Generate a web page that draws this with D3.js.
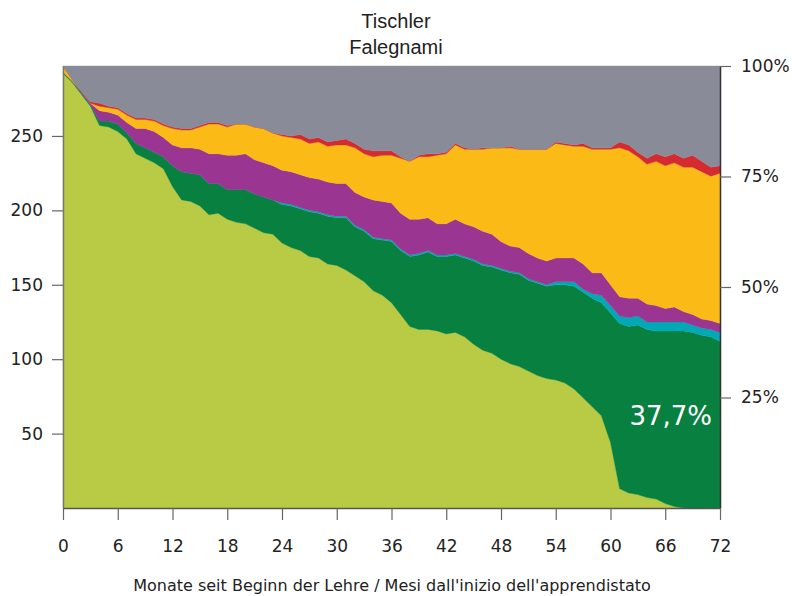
<!DOCTYPE html>
<html>
<head>
<meta charset="utf-8">
<script src="https://cdn.jsdelivr.net/npm/d3@7.9.0/dist/d3.min.js"></script>
<style>
  body { margin: 0; background: #fff; }
  svg text { font-family: "DejaVu Sans", sans-serif; fill: #222; }
  .title { font-family: "Liberation Sans", Arial, sans-serif; font-size: 20px; }
</style>
</head>
<body>
<svg id="chart" width="792" height="596"></svg>
<script>
// months since start of apprenticeship
const months = d3.range(0, 73);
const total = 297;

// headcounts per month, stacked from the bottom
const inTraining = [292,286,278,270,257,256,253,248,238,235,232,228,216,207,206,203,197,198,194,192,191,188,185,184,178,175,173,169,168,164,163,160,156,152,146,143,138,130,122,120,120,119,117,118,115,110,106,104,100,97,95,92,89,87,86,84,80,74,68,62,44,13,10,9,7,6,3,1,0,0,0,0,0];
const certified = [1,1,1,1,3,4,5,4,7,7,7,8,14,19,19,21,21,20,20,22,23,23,24,23,26,28,28,30,30,32,32,35,33,34,35,37,41,43,47,50,52,50,52,52,53,56,57,58,60,61,62,61,62,62,64,66,69,71,73,76,87,111,112,114,113,113,116,118,119,118,116,115,112];
const cyanGroup = [0,0,0,0,0,0,0,0,0,0,0,0,0,0,0,0,0,0,0,0,0,0,0,0,1,1,1,1,1,1,1,1,1,1,1,1,1,1,1,1,1,1,1,1,1,1,1,1,1,1,1,1,1,1,2,2,3,2,3,5,5,5,6,6,5,6,6,6,6,5,5,5,6];
const purpleGroup = [0,0,1,1,7,6,6,7,10,13,14,13,14,16,17,17,20,20,23,23,24,23,23,23,22,22,22,22,22,22,22,22,22,22,25,25,25,24,24,23,22,21,21,23,22,22,22,21,18,17,17,17,16,16,16,16,16,17,14,15,14,13,13,12,12,11,9,10,7,7,6,6,6];
const yellowGroup = [4,1,0,0,3,3,4,5,6,6,7,8,11,12,12,15,20,20,19,21,20,22,23,22,23,23,24,23,25,24,26,26,30,29,29,31,32,37,39,42,41,46,47,50,50,52,55,58,63,66,66,70,73,75,77,76,75,79,83,83,91,100,99,95,94,97,96,97,97,99,99,97,101];
const redGroup = [0,0,0,1,2,1,1,1,1,1,1,1,1,1,1,1,1,1,1,0,0,0,0,0,1,1,3,3,3,3,3,4,3,3,4,3,3,1,0,1,2,1,1,1,1,0,1,0,0,1,0,0,0,0,1,1,1,2,1,1,1,4,4,3,4,5,6,6,6,8,7,6,5];
const greyGroup = [0,9,17,24,25,27,28,32,35,35,36,39,41,42,42,40,38,38,40,39,39,41,42,45,46,47,46,49,48,51,50,49,52,56,57,57,57,61,64,60,59,59,58,52,55,56,55,55,55,54,56,56,56,56,51,52,53,52,55,55,55,51,53,58,62,59,61,59,62,60,64,68,67];

const seriesKeys = ['inTraining','certified','cyanGroup','purpleGroup','yellowGroup','redGroup','greyGroup'];
const seriesColors = ['#b9ca45','#08803f','#00a9b5','#9a3591','#fbba16','#d52a2f','#898b99'];
const xTicks = [0,6,12,18,24,30,36,42,48,54,60,66,72];
const leftTicks = [50,100,150,200,250];
const rightTicks = [0.25,0.5,0.75,1];

const columns = [inTraining, certified, cyanGroup, purpleGroup, yellowGroup, redGroup, greyGroup];
const table = months.map((m, i) => {
  const row = { month: m };
  seriesKeys.forEach((k, j) => row[k] = columns[j][i]);
  return row;
});

const svg = d3.select('#chart');
const x = d3.scaleLinear().domain([0, 72]).range([63, 720]);
const yLeft = d3.scaleLinear().domain([0, total]).range([508, 66]);
const yRight = d3.scaleLinear().domain([0, 1]).range([508, 66]);
const color = d3.scaleOrdinal(seriesKeys, seriesColors);

const stacked = d3.stack().keys(seriesKeys)(table);
const area = d3.area()
  .x(d => x(d.data.month))
  .y0(d => yLeft(d[0]))
  .y1(d => yLeft(d[1]));

svg.append('g')
  .selectAll('path')
  .data(stacked)
  .join('path')
  .attr('d', area)
  .attr('fill', d => color(d.key))
  .attr('stroke', d => color(d.key))
  .attr('stroke-width', 0.4);

// axes
const leftAxis = svg.append('g')
  .attr('transform', 'translate(63,0)')
  .call(d3.axisLeft(yLeft).tickValues(leftTicks).tickSize(11).tickSizeOuter(0).tickPadding(9));
const rightAxis = svg.append('g')
  .attr('transform', 'translate(720,0)')
  .call(d3.axisRight(yRight).tickValues(rightTicks).tickSize(11).tickSizeOuter(0).tickPadding(10)
    .tickFormat(d => Math.round(d * 100) + '%'));
const bottomAxis = svg.append('g')
  .attr('transform', 'translate(0,508)')
  .call(d3.axisBottom(x).tickValues(xTicks).tickSize(12).tickSizeOuter(0).tickPadding(20));

[leftAxis, rightAxis, bottomAxis].forEach(g => {
  g.selectAll('text').style('font-size', '17px').style('font-family', '"DejaVu Sans", sans-serif').attr('fill', '#222');
  g.selectAll('.tick line').attr('stroke', '#666').attr('stroke-width', 1.2);
});
leftAxis.select('.domain').attr('stroke', '#777').attr('stroke-width', 1.5);
rightAxis.select('.domain').attr('stroke', '#333').attr('stroke-width', 1.5);
bottomAxis.select('.domain').attr('stroke', '#555').attr('stroke-width', 1.5);

// titles
svg.append('text').attr('class', 'title').attr('x', 396).attr('y', 28)
  .attr('text-anchor', 'middle').text('Tischler');
svg.append('text').attr('class', 'title').attr('x', 396).attr('y', 54)
  .attr('text-anchor', 'middle').text('Falegnami');
svg.append('text').attr('x', 392).attr('y', 591).attr('text-anchor', 'middle')
  .style('font-size', '16px')
  .text("Monate seit Beginn der Lehre / Mesi dall'inizio dell'apprendistato");

// share of certified at the last month
const lastShare = certified[certified.length - 1] / total;
svg.append('text')
  .attr('x', x(72) - 8).attr('y', 425)
  .attr('text-anchor', 'end')
  .style('font-size', '26px')
  .style('fill', '#fff')
  .text(d3.format('.1f')(lastShare * 100).replace('.', ',') + '%');
</script>
</body>
</html>
